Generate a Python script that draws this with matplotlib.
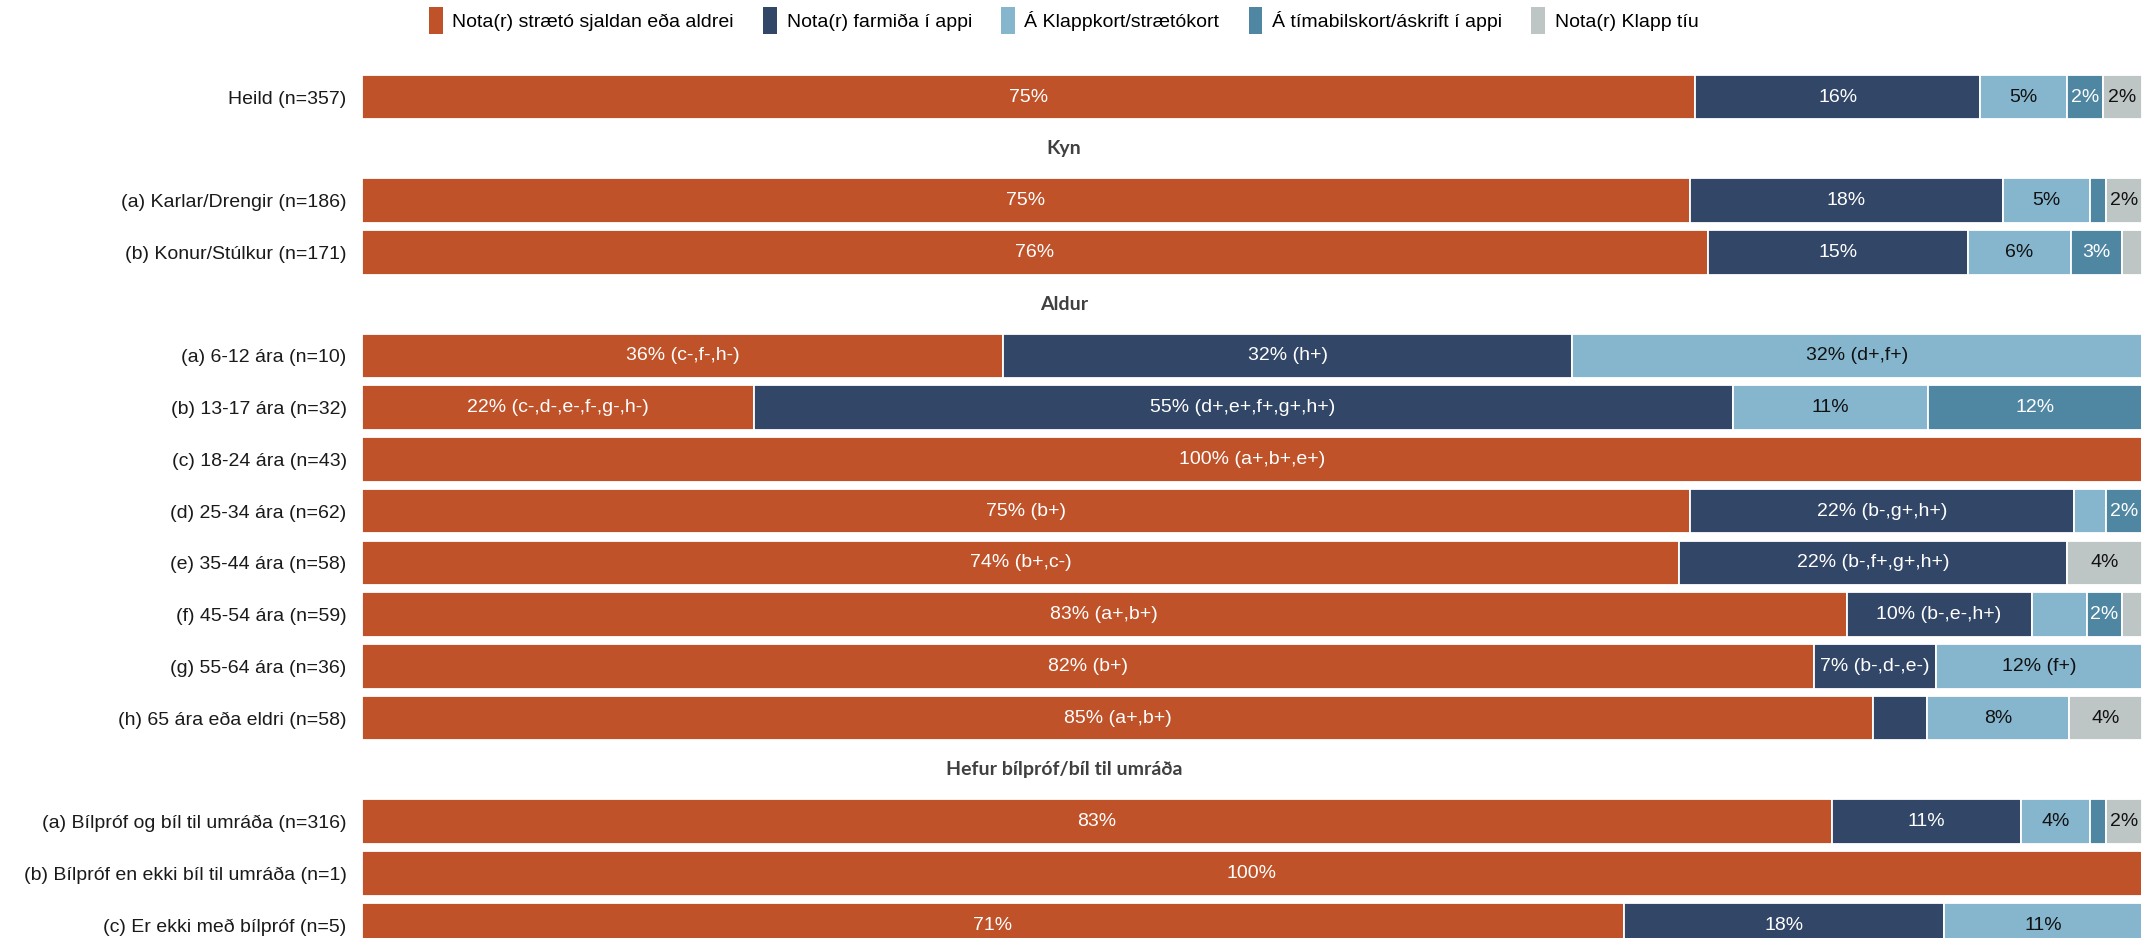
import matplotlib.pyplot as plt
from matplotlib.patches import Patch
from matplotlib.transforms import blended_transform_factory

plt.rcParams['font.family'] = ['Liberation Sans', 'DejaVu Sans']

# row labels (top to bottom) and the section titles drawn between them
row_labels = [
    "Heild (n=357)",
    "(a) Karlar/Drengir (n=186)",
    "(b) Konur/Stúlkur (n=171)",
    "(a) 6-12 ára (n=10)",
    "(b) 13-17 ára (n=32)",
    "(c) 18-24 ára (n=43)",
    "(d) 25-34 ára (n=62)",
    "(e) 35-44 ára (n=58)",
    "(f) 45-54 ára (n=59)",
    "(g) 55-64 ára (n=36)",
    "(h) 65 ára eða eldri (n=58)",
    "(a) Bílpróf og bíl til umráða (n=316)",
    "(b) Bílpróf en ekki bíl til umráða (n=1)",
    "(c) Er ekki með bílpróf (n=5)",
]
sections = ["Kyn", "Aldur", "Hefur bílpróf/bíl til umráða"]
section_start = [1, 3, 11]

series_names = [
    "Nota(r) strætó sjaldan eða aldrei",
    "Nota(r) farmiða í appi",
    "Á Klappkort/strætókort",
    "Á tímabilskort/áskrift í appi",
    "Nota(r) Klapp tíu",
]
colors = ["#C05229", "#324667", "#86B6CE", "#4F87A3", "#BEC5C5"]
text_colors = ["white", "white", "#111111", "white", "#111111"]

sjaldan = [74.9, 74.6, 75.6, 36.0, 22.0, 100.0, 74.6, 74.0, 83.4, 81.6, 84.9, 82.6, 100.0, 70.9]
farmida = [16.0, 17.6, 14.6, 32.0, 55.0, 0, 21.6, 21.8, 10.4, 6.8, 3.0, 10.6, 0, 18.0]
klappkort = [4.9, 4.9, 5.8, 32.0, 11.0, 0, 1.8, 0, 3.1, 11.6, 8.0, 3.9, 0, 11.1]
timabil = [2.0, 0.9, 2.9, 0, 12.0, 0, 2.0, 0, 2.0, 0, 0, 0.9, 0, 0]
klapp_tiu = [2.2, 2.0, 1.1, 0, 0, 0, 0, 4.2, 1.1, 0, 4.1, 2.0, 0, 0]

# significance notes after the percentage; None = no label on that segment
note_sjaldan = ["", "", "", "(c-,f-,h-)", "(c-,d-,e-,f-,g-,h-)", "(a+,b+,e+)", "(b+)",
                "(b+,c-)", "(a+,b+)", "(b+)", "(a+,b+)", "", "", ""]
note_farmida = ["", "", "", "(h+)", "(d+,e+,f+,g+,h+)", None, "(b-,g+,h+)",
                "(b-,f+,g+,h+)", "(b-,e-,h+)", "(b-,d-,e-)", None, "", None, ""]
note_klappkort = ["", "", "", "(d+,f+)", "", None, None, None, None, "(f+)", "", "", None, ""]
note_timabil = ["", None, "", None, "", None, "", None, "", None, None, None, None, None]
note_klapp_tiu = ["", "", None, None, None, None, None, "", None, None, "", "", None, None]

values = [sjaldan, farmida, klappkort, timabil, klapp_tiu]
notes = [note_sjaldan, note_farmida, note_klappkort, note_timabil, note_klapp_tiu]

# slot positions: every section title takes one row slot
ypos = [i + sum(1 for s in section_start if s <= i) for i in range(len(row_labels))]
sec_pos = [section_start[k] + k for k in range(len(sections))]

fig = plt.figure(figsize=(21.49, 9.38), dpi=100)
ax = fig.add_axes([362 / 2149, 0, 1780 / 2149, 878 / 938])

left = [0.0] * len(row_labels)
for s in range(len(series_names)):
    ax.barh(ypos, values[s], left=left, height=0.86, color=colors[s],
            edgecolor="white", linewidth=1.3, label=series_names[s])
    for i, v in enumerate(values[s]):
        if v > 0 and notes[s][i] is not None:
            txt = f"{v:.0f}%"
            if notes[s][i]:
                txt += " " + notes[s][i]
            ax.text(left[i] + v / 2, ypos[i], txt, ha="center", va="center",
                    color=text_colors[s], fontsize=14)
    left = [a + b for a, b in zip(left, values[s])]

ax.set_xlim(0, 100)
ax.set_ylim(16.25, -0.715)
ax.set_yticks(ypos)
ax.set_yticklabels(row_labels, fontsize=14, color="#1a1a1a")
ax.tick_params(axis="y", length=0, pad=11)
ax.set_xticks([])
for sp in ax.spines.values():
    sp.set_visible(False)

trans = blended_transform_factory(fig.transFigure, ax.transData)
for name, p in zip(sections, sec_pos):
    ax.text(0.495, p, name, transform=trans, ha="center", va="center",
            fontsize=14, fontweight="bold", color="#404040", family="Lato")

handles = [Patch(facecolor=c, edgecolor="none") for c in colors]
fig.legend(handles, series_names, loc="center", bbox_to_anchor=(0.495, 0.978),
           ncol=5, frameon=False, fontsize=14, handlelength=0.7, handleheight=1.8,
           handletextpad=0.5, columnspacing=1.5)

fig.savefig("out.png", dpi=100)
